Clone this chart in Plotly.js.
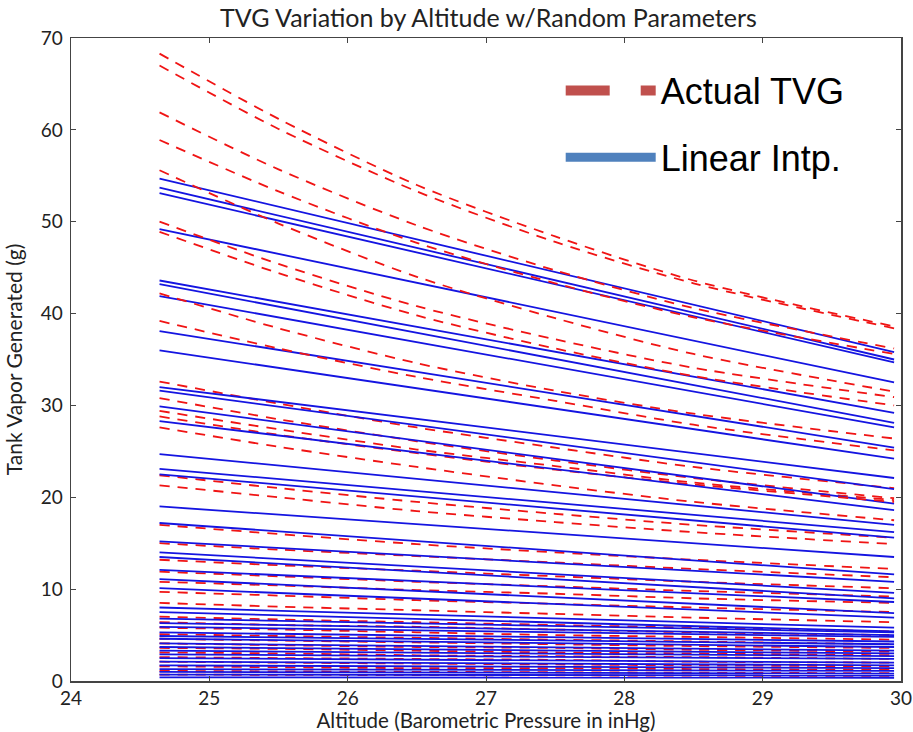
<!DOCTYPE html>
<html>
<head>
<meta charset="utf-8">
<script src="https://cdn.plot.ly/plotly-3.0.1.min.js"></script>
<style>html,body{margin:0;padding:0;background:#fff;}#chart{width:913px;height:732px;}</style>
</head>
<body>
<div id="chart"></div>
<script>
// x positions (barometric pressure, inHg)
const xActual = [24.64, 25.5, 26.5, 27.5, 28.5, 29.95];
const xLinear = [24.64, 29.95];

// Actual TVG curves (g), read at xActual
const actualTVG = [
  [68.3, 61.2, 54.0, 48.4, 43.6, 38.6],
  [67.0, 60.1, 53.3, 47.8, 43.3, 38.4],
  [61.9, 55.7, 49.6, 44.7, 40.6, 36.2],
  [58.9, 53.3, 47.7, 43.3, 39.6, 35.6],
  [55.6, 49.8, 44.0, 39.5, 35.6, 31.5],
  [50.0, 45.4, 40.8, 37.2, 34.1, 30.9],
  [48.9, 44.4, 39.8, 36.2, 33.2, 30.0],
  [42.2, 38.4, 34.6, 31.6, 29.1, 26.4],
  [39.2, 36.2, 33.1, 30.5, 27.9, 25.1],
  [32.6, 30.2, 27.6, 25.4, 23.3, 21.0],
  [30.8, 28.5, 26.1, 24.0, 22.1, 19.9],
  [29.4, 27.4, 25.2, 23.4, 21.6, 19.7],
  [28.8, 26.8, 24.8, 23.0, 21.4, 19.5],
  [27.6, 25.5, 23.3, 21.3, 19.5, 17.5],
  [22.4, 21.0, 19.5, 18.2, 17.0, 15.6],
  [21.3, 20.0, 18.5, 17.3, 16.2, 14.9],
  [17.0, 16.0, 14.9, 14.0, 13.2, 12.2],
  [15.0, 14.3, 13.6, 12.9, 12.2, 11.3],
  [13.2, 12.6, 12.0, 11.4, 10.8, 10.1],
  [11.9, 11.4, 10.8, 10.3, 9.8, 9.2],
  [10.8, 10.4, 9.9, 9.5, 9.0, 8.5],
  [9.7, 9.3, 8.8, 8.4, 8.0, 7.5],
  [8.5, 8.1, 7.7, 7.3, 6.9, 6.4],
  [7.0, 6.7, 6.4, 6.1, 5.8, 5.4],
  [6.4, 6.1, 5.9, 5.6, 5.3, 5.0],
  [5.8, 5.6, 5.3, 5.0, 4.8, 4.5],
  [5.1, 4.9, 4.7, 4.5, 4.3, 4.0],
  [4.6, 4.4, 4.2, 4.0, 3.8, 3.6],
  [4.1, 3.9, 3.7, 3.6, 3.4, 3.2],
  [3.6, 3.5, 3.3, 3.1, 3.0, 2.8],
  [3.1, 3.0, 2.8, 2.7, 2.6, 2.4],
  [2.6, 2.5, 2.4, 2.3, 2.1, 2.0],
  [2.1, 2.0, 1.9, 1.8, 1.7, 1.6],
  [1.6, 1.5, 1.4, 1.4, 1.3, 1.2],
  [1.1, 1.05, 1.0, 0.95, 0.9, 0.85],
  [0.7, 0.67, 0.64, 0.61, 0.58, 0.55]
];

// Linear interpolation lines (g): value at 24.64 and at 29.95
const linearStart = [54.7, 53.7, 53.1, 49.2, 43.6, 43.2, 41.9, 38.1, 36.0, 32.0, 31.6, 29.9, 28.3,
  24.7, 23.1, 22.5, 19.0, 17.2, 15.2, 14.0, 13.5, 12.1, 11.1, 10.1, 8.0, 7.5,
  6.8, 6.3, 5.9, 5.3, 4.9, 4.6, 4.1, 3.7, 3.3, 2.9, 2.5, 2.1, 1.7, 1.3, 1.0, 0.7, 0.4];
const linearEnd = [35.8, 35.0, 34.7, 32.5, 29.2, 28.1, 27.6, 25.4, 24.2, 22.1, 20.9, 19.3, 18.6,
  17.0, 16.2, 15.6, 13.5, 11.6, 10.8, 9.6, 9.0, 8.6, 7.4, 6.9, 5.8, 5.4,
  5.3, 5.0, 4.8, 4.3, 4.0, 3.7, 3.3, 3.0, 2.7, 2.4, 2.0, 1.7, 1.4, 1.1, 0.8, 0.6, 0.35];

const seriesNames = ['Actual TVG', 'Linear Intp.'];
const legendColors = ['#c0504d', '#4f81bd'];

const traces = [];
const n = Math.max(actualTVG.length, linearStart.length);
for (let i = 0; i < n; i++) {
  if (i < actualTVG.length) {
    traces.push({
      x: xActual, y: actualTVG[i], type: 'scatter', mode: 'lines', showlegend: false,
      name: seriesNames[0], hoverinfo: 'skip',
      line: {color: 'rgb(240,20,20)', width: 1.8, dash: '10px,8px', shape: 'spline', smoothing: 0.8}
    });
  }
  if (i < linearStart.length) {
    traces.push({
      x: xLinear, y: [linearStart[i], linearEnd[i]], type: 'scatter', mode: 'lines', showlegend: false,
      name: seriesNames[1], hoverinfo: 'skip',
      line: {color: 'rgb(20,20,225)', width: 1.8}
    });
  }
}
// legend entries
traces.push({x: [null], y: [null], type: 'scatter', mode: 'lines', name: seriesNames[0], legendgroup: 'a',
  line: {color: legendColors[0], width: 10, dash: '44px,31px'}});
traces.push({x: [null], y: [null], type: 'scatter', mode: 'lines', name: seriesNames[1], legendgroup: 'b',
  line: {color: legendColors[1], width: 9}});

const FONT = 'Lato, "Open Sans", sans-serif';
const layout = {
  width: 913, height: 732,
  margin: {l: 71, r: 12, t: 38, b: 51},
  paper_bgcolor: '#fff', plot_bgcolor: '#fff',
  title: {text: 'TVG Variation by Altitude w/Random Parameters', font: {family: FONT, size: 25, color: '#222'},
    x: 0.535, xanchor: 'center', y: 0.975, yanchor: 'middle'},
  xaxis: {range: [24, 30], dtick: 1, tick0: 24, ticks: 'inside', ticklen: 5, tickcolor: '#444',
    showline: true, linecolor: '#444', linewidth: 1.5, mirror: 'ticks', showgrid: false, zeroline: false,
    tickfont: {family: FONT, size: 19, color: '#222'},
    title: {text: 'Altitude (Barometric Pressure in inHg)', font: {family: FONT, size: 20.5, color: '#222'}, standoff: 4}},
  yaxis: {range: [0, 70], dtick: 10, tick0: 0, ticks: 'inside', ticklen: 5, tickcolor: '#444',
    showline: true, linecolor: '#444', linewidth: 1.5, mirror: 'ticks', showgrid: false, zeroline: false,
    ticklabelstandoff: 3,
    tickfont: {family: FONT, size: 19, color: '#222'},
    title: {text: 'Tank Vapor Generated (g)', font: {family: FONT, size: 21, color: '#222'}, standoff: 12}},
  legend: {x: 0.59, y: 0.965, xanchor: 'left', yanchor: 'top', bgcolor: 'rgba(0,0,0,0)',
    font: {family: '"Liberation Sans", Arial, sans-serif', size: 36, color: '#000'},
    itemwidth: 90, traceorder: 'grouped', tracegroupgap: 17},
  showlegend: true
};
Plotly.newPlot('chart', traces, layout, {displayModeBar: false, staticPlot: true});
</script>
</body>
</html>
